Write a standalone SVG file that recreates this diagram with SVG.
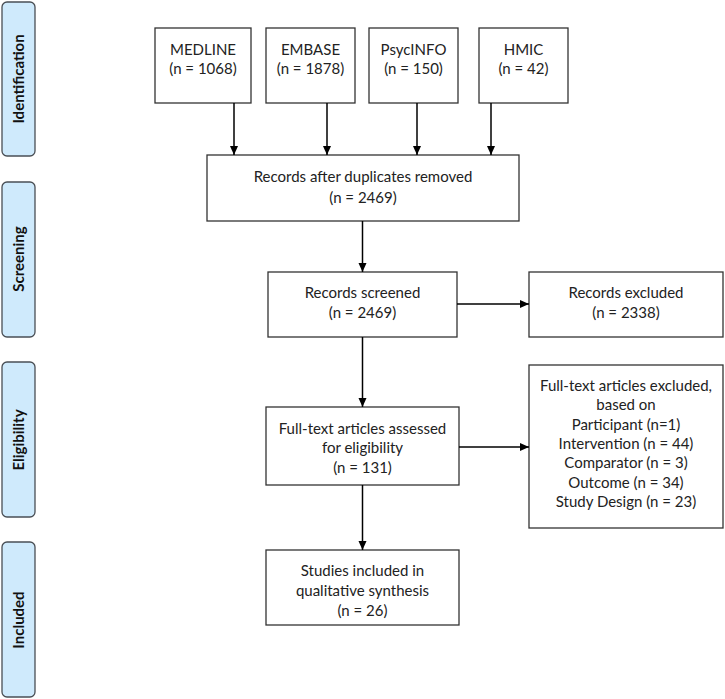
<svg xmlns="http://www.w3.org/2000/svg" width="725" height="699" viewBox="0 0 725 699">
<style>
.box{fill:#fff;stroke:#333;stroke-width:1.3}
.phase{fill:#cfeafc;stroke:#4a4f55;stroke-width:1.3}
.t{font-family:Lato,"Open Sans","Liberation Sans",sans-serif;font-size:15px;fill:#222;text-anchor:middle}
.pt{font-family:Lato,"Open Sans","Liberation Sans",sans-serif;font-size:15px;font-weight:bold;fill:#111;text-anchor:middle}
.c{stroke:#000;stroke-width:1.5;fill:none;marker-end:url(#ah)}
</style>
<defs>
<marker id="ah" markerWidth="10" markerHeight="10" refX="9" refY="5" orient="auto" markerUnits="userSpaceOnUse">
<path d="M0,1 L9,5 L0,9 Z" fill="#000"/>
</marker>
</defs>
<rect width="725" height="699" fill="#fff"/>
<g id="phase-identification"><rect class="phase" x="2" y="2" width="33" height="154" rx="5"/><text class="pt" transform="translate(24,79) rotate(-90)">Identification</text></g>
<g id="phase-screening"><rect class="phase" x="2" y="182" width="33" height="155" rx="5"/><text class="pt" transform="translate(24,259) rotate(-90)">Screening</text></g>
<g id="phase-eligibility"><rect class="phase" x="2" y="362" width="33" height="155" rx="5"/><text class="pt" transform="translate(24,440) rotate(-90)">Eligibility</text></g>
<g id="phase-included"><rect class="phase" x="2" y="542" width="33" height="155" rx="5"/><text class="pt" transform="translate(24,620) rotate(-90)">Included</text></g>

<g id="medline"><rect class="box" x="155" y="28" width="96" height="75"/><text class="t" x="203" y="55">MEDLINE</text><text class="t" x="203" y="74">(n = 1068)</text></g>
<g id="embase"><rect class="box" x="266" y="28" width="89" height="75"/><text class="t" x="310.5" y="55">EMBASE</text><text class="t" x="310.5" y="74">(n = 1878)</text></g>
<g id="psycinfo"><rect class="box" x="369" y="28" width="89" height="75"/><text class="t" x="413.5" y="55">PsycINFO</text><text class="t" x="413.5" y="74">(n = 150)</text></g>
<g id="hmic"><rect class="box" x="479" y="28" width="89" height="75"/><text class="t" x="523.5" y="55">HMIC</text><text class="t" x="523.5" y="74">(n = 42)</text></g>

<g id="duplicates"><rect class="box" x="207" y="155" width="312" height="66"/><text class="t" x="363" y="182">Records after duplicates removed</text><text class="t" x="363" y="203">(n = 2469)</text></g>
<g id="screened"><rect class="box" x="268" y="272" width="189" height="65"/><text class="t" x="362.5" y="298">Records screened</text><text class="t" x="362.5" y="318">(n = 2469)</text></g>
<g id="excluded"><rect class="box" x="529" y="272" width="194" height="65"/><text class="t" x="626" y="298">Records excluded</text><text class="t" x="626" y="318">(n = 2338)</text></g>
<g id="fulltext"><rect class="box" x="266" y="407" width="193" height="78"/><text class="t" x="362.5" y="434">Full-text articles assessed</text><text class="t" x="362.5" y="453">for eligibility</text><text class="t" x="362.5" y="473">(n = 131)</text></g>
<g id="fulltext-excluded"><rect class="box" x="529" y="365" width="194" height="163"/><text class="t" x="626" y="391">Full-text articles excluded,</text><text class="t" x="626" y="410">based on</text><text class="t" x="626" y="430">Participant (n=1)</text><text class="t" x="626" y="449">Intervention (n = 44)</text><text class="t" x="626" y="468">Comparator (n = 3)</text><text class="t" x="626" y="488">Outcome (n = 34)</text><text class="t" x="626" y="507">Study Design (n = 23)</text></g>
<g id="included"><rect class="box" x="266" y="550" width="193" height="75"/><text class="t" x="362.5" y="576">Studies included in</text><text class="t" x="362.5" y="596">qualitative synthesis</text><text class="t" x="362.5" y="616">(n = 26)</text></g>

<g id="connectors">
<line class="c" x1="234" y1="103" x2="234" y2="155"/>
<line class="c" x1="327" y1="103" x2="327" y2="155"/>
<line class="c" x1="417" y1="103" x2="417" y2="155"/>
<line class="c" x1="491" y1="103" x2="491" y2="155"/>
<line class="c" x1="362.5" y1="221" x2="362.5" y2="272"/>
<line class="c" x1="457" y1="304" x2="529" y2="304"/>
<line class="c" x1="362.5" y1="337" x2="362.5" y2="407"/>
<line class="c" x1="459" y1="447" x2="529" y2="447"/>
<line class="c" x1="362.5" y1="485" x2="362.5" y2="550"/>
</g>
</svg>
